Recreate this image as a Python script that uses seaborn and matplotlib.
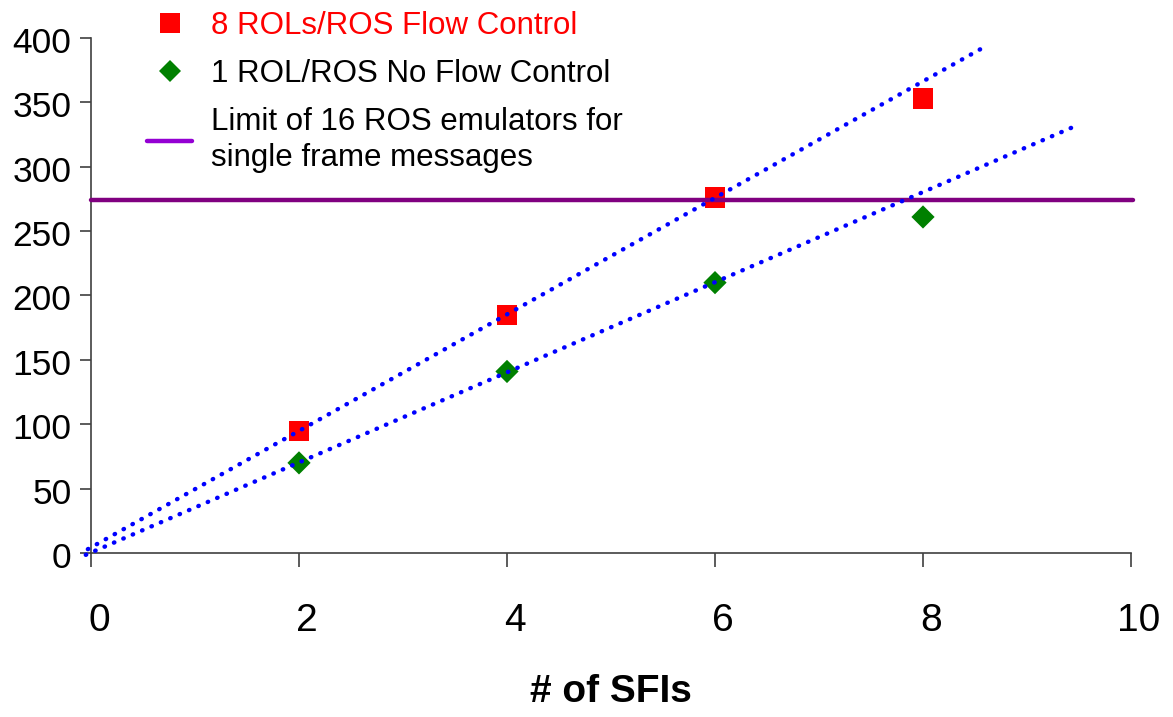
import numpy as np
import pandas as pd
import matplotlib.pyplot as plt
import matplotlib.transforms as mtransforms
from matplotlib.lines import Line2D
import seaborn as sns

# Data
sfis = [2, 4, 6, 8]
flow_control = [95, 185, 276, 353]        # 8 ROLs/ROS Flow Control
no_flow_control = [70, 141, 210, 261]     # 1 ROL/ROS No Flow Control
limit_16_ros = 274.5                      # limit of 16 ROS emulators

label_fc = '8 ROLs/ROS Flow Control'
label_nfc = '1 ROL/ROS No Flow Control'
label_limit = 'Limit of 16 ROS emulators for\nsingle frame messages'

# trend lines are fitted on the first three points only
n_fit = 3
fc_trend_x = [-0.03, 8.55]
nfc_trend_x = [-0.05, 9.45]

sns.set_theme(style='white')
plt.rcParams['font.family'] = ['Liberation Sans', 'DejaVu Sans']
plt.rcParams['text.color'] = 'black'

df_fc = pd.DataFrame({'SFIs': sfis, 'Rate': flow_control})
df_nfc = pd.DataFrame({'SFIs': sfis, 'Rate': no_flow_control})

fig = plt.figure(figsize=(11.73, 7.17), dpi=100)
ax = fig.add_axes([91 / 1173, 1 - 553 / 717, 1040 / 1173, 515 / 717])

# markers
sns.scatterplot(data=df_fc, x='SFIs', y='Rate', marker='s', color='red',
                s=215, edgecolor='none', ax=ax, zorder=3, legend=False)
sns.scatterplot(data=df_nfc, x='SFIs', y='Rate', marker='D', color='green',
                s=140, edgecolor='none', ax=ax, zorder=3, legend=False)

# limit line
ax.axhline(limit_16_ros, xmin=0, xmax=1.002, color='#800080', lw=3.2,
           zorder=4, clip_on=False)

# dotted trend lines
for yvals, xr in [(flow_control, fc_trend_x), (no_flow_control, nfc_trend_x)]:
    coef = np.polyfit(sfis[:n_fit], yvals[:n_fit], 1)
    xs = np.array(xr)
    ax.plot(xs, np.polyval(coef, xs), color='blue', lw=3.2,
            linestyle=(0, (0.1, 2.2)), dash_capstyle='round',
            zorder=5, clip_on=False)

ax.set_xlim(0, 10)
ax.set_ylim(0, 400)
ax.set_xticks(range(0, 11, 2))
ax.set_yticks(range(0, 401, 50))
sns.despine(ax=ax)
for sp in ['left', 'bottom']:
    ax.spines[sp].set_color('#404040')
    ax.spines[sp].set_linewidth(1.2)

ax.tick_params(axis='x', bottom=True, direction='out', length=10, width=1.2,
               color='#404040', pad=26, labelsize=28, labelcolor='black')
ax.tick_params(axis='y', left=True, direction='out', length=8, width=1.2,
               color='#404040', pad=6, labelsize=25.5, labelcolor='black')

# small label offsets as in the reference
for lab in ax.get_xticklabels():
    lab.set_transform(lab.get_transform() +
                      mtransforms.ScaledTranslation(8 / 100, 0, fig.dpi_scale_trans))
for lab in ax.get_yticklabels():
    lab.set_transform(lab.get_transform() +
                      mtransforms.ScaledTranslation(0, -2 / 100, fig.dpi_scale_trans))

ax.set_xlabel('# of SFIs', fontsize=28, fontweight='bold', labelpad=25,
              color='black')
ax.set_ylabel('')

handles = [
    Line2D([], [], marker='s', color='red', ls='none', markersize=14, markeredgewidth=0),
    Line2D([], [], marker='D', color='green', ls='none', markersize=11.5, markeredgewidth=0),
    Line2D([], [], color='#9400D3', lw=3.2),
]
leg = ax.legend(handles, [label_fc, label_nfc, label_limit],
                loc='upper left', bbox_to_anchor=(147 / 1173, 1 - 11 / 717),
                bbox_transform=fig.transFigure, frameon=False, fontsize=22.5,
                handlelength=1.45, handletextpad=0.6, labelspacing=0.58,
                borderpad=0, borderaxespad=0)
for t in leg.get_texts():
    t.set_color('black')
    t.set_linespacing(1.25)
leg.get_texts()[0].set_color('red')

fig.savefig('out.png', dpi=100)
